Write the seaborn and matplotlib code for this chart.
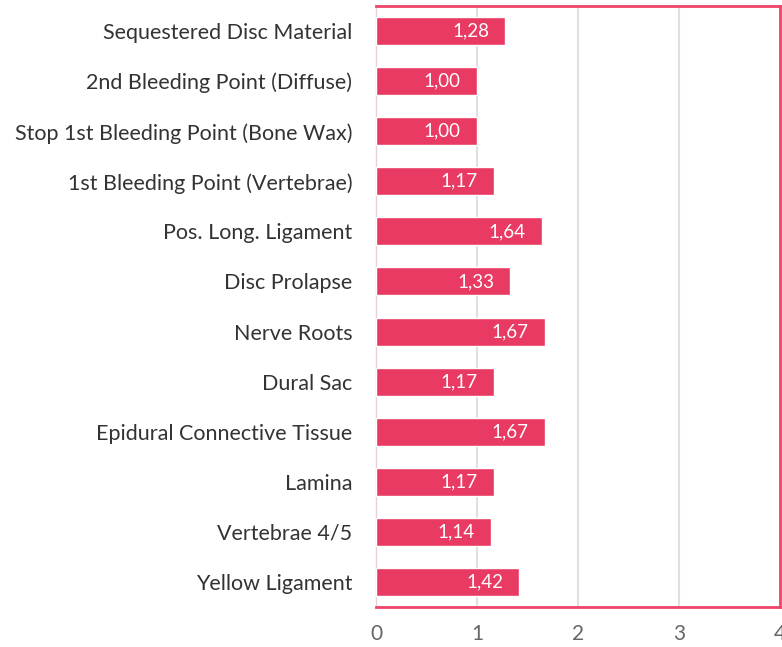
import matplotlib
matplotlib.use("Agg")
import matplotlib.pyplot as plt
import seaborn as sns
import pandas as pd

# values
categories = [
    "Sequestered Disc Material",
    "2nd Bleeding Point (Diffuse)",
    "Stop 1st Bleeding Point (Bone Wax)",
    "1st Bleeding Point (Vertebrae)",
    "Pos. Long. Ligament",
    "Disc Prolapse",
    "Nerve Roots",
    "Dural Sac",
    "Epidural Connective Tissue",
    "Lamina",
    "Vertebrae 4/5",
    "Yellow Ligament",
]
values = [1.28, 1.00, 1.00, 1.17, 1.64, 1.33, 1.67, 1.17, 1.67, 1.17, 1.14, 1.42]
x_ticks = [0, 1, 2, 3, 4]

bar_color = "#E83A62"
frame_color = "#EE4468"

sns.set_style("white")
plt.rcParams["font.family"] = ["Lato", "DejaVu Sans"]

df = pd.DataFrame({"category": categories, "value": values})

fig = plt.figure(figsize=(7.82, 6.47), dpi=100)
ax = fig.add_axes([376 / 782, 1 - 607 / 647, 404 / 782, 601 / 647])

sns.barplot(data=df, y="category", x="value", color=bar_color, width=0.56,
            saturation=1, ax=ax, zorder=3)

ax.set_xlim(0, 4)
ax.set_xticks(x_ticks)
ax.set_xticklabels([str(t) for t in x_ticks], fontsize=15, color="#666666")
ax.tick_params(axis="x", direction="in", length=4, width=1.5, color=frame_color, pad=12)
ax.tick_params(axis="y", length=0, labelsize=15.5, labelcolor="#333333", pad=17)
ax.set_xlabel("")
ax.set_ylabel("")

for t in x_ticks[1:-1]:
    ax.axvline(t, color="#E0E0E0", lw=1.5, zorder=1)

for side in ["top", "right", "bottom"]:
    ax.spines[side].set_color(frame_color)
    ax.spines[side].set_linewidth(2)
ax.spines["left"].set_color("#E8D0D6")
ax.spines["left"].set_linewidth(1)

for i, v in enumerate(values):
    ax.text(v - 0.16, i, f"{v:.2f}".replace(".", ","), ha="right", va="center",
            color="white", fontsize=13.5, zorder=4)

fig.savefig("out.png", dpi=100)
